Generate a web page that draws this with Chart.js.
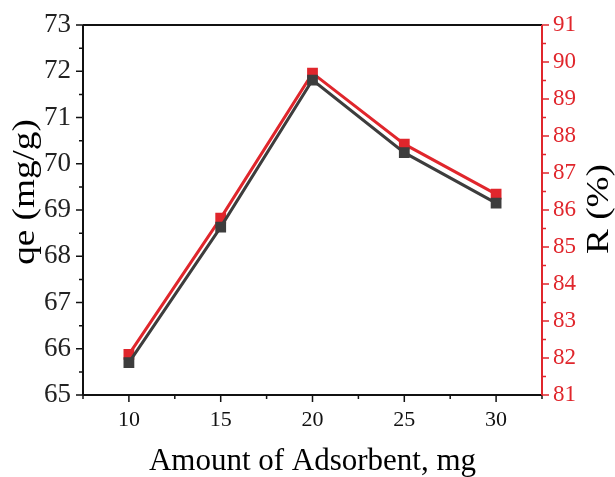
<!DOCTYPE html>
<html lang="en">
<head>
    <meta charset="UTF-8">
    <title>qe and R vs Amount of Adsorbent</title>
    <script src="https://cdn.jsdelivr.net/npm/chart.js@4.4.0/dist/chart.umd.min.js"></script>
    <style>
        body { margin: 0; background: #fff; }
        #wrap { width: 615px; height: 477px; }
    </style>
</head>
<body>
<div id="wrap"><canvas id="chart"></canvas></div>
<script>
// data
var amounts = [10, 15, 20, 25, 30];
var qeValues = [65.70, 68.63, 71.81, 70.24, 69.15];
var rValues = [82.10, 85.78, 89.70, 87.78, 86.43];
var xTicks = [10, 15, 20, 25, 30];
var qeTicks = [65, 66, 67, 68, 69, 70, 71, 72, 73];
var rTicks = [81, 82, 83, 84, 85, 86, 87, 88, 89, 90, 91];

var RED = '#e0262c';
var DARK = '#3d3d3d';
var SERIF = "'Liberation Serif', 'Times New Roman', serif";

Chart.defaults.font.family = SERIF;
Chart.defaults.color = '#000';

// frame, major/minor ticks and the two y titles
var framePlugin = {
    id: 'frame',
    afterDraw: function (chart) {
        var c = chart.ctx, a = chart.chartArea;
        var x = chart.scales.x, yl = chart.scales.y, yr = chart.scales.y2;
        c.save();
        c.lineWidth = 2;
        c.strokeStyle = '#111';
        c.beginPath();
        c.moveTo(a.left, a.top); c.lineTo(a.right, a.top);
        c.moveTo(a.left, a.top); c.lineTo(a.left, a.bottom);
        c.moveTo(a.left, a.bottom); c.lineTo(a.right, a.bottom);
        c.stroke();
        c.strokeStyle = RED;
        c.beginPath();
        c.moveTo(a.right, a.top); c.lineTo(a.right, a.bottom + 1);
        c.stroke();

        c.lineWidth = 1.5;
        c.strokeStyle = '#111';
        c.beginPath();
        for (var v = 7.5; v <= 32.5; v += 2.5) {
            var px = x.getPixelForValue(v);
            var len = (v % 5 === 0) ? 7 : 4;
            c.moveTo(px, a.bottom); c.lineTo(px, a.bottom + len);
        }
        for (var q = 65; q <= 73; q += 0.5) {
            var py = yl.getPixelForValue(q);
            var l2 = (q % 1 === 0) ? 7 : 4;
            c.moveTo(a.left, py); c.lineTo(a.left - l2, py);
        }
        c.stroke();
        c.strokeStyle = RED;
        c.beginPath();
        for (var r = 81; r <= 91; r += 0.5) {
            var py2 = yr.getPixelForValue(r);
            var l3 = (r % 1 === 0) ? 7 : 4;
            c.moveTo(a.right, py2); c.lineTo(a.right + l3, py2);
        }
        c.stroke();

        c.font = '31px ' + SERIF;
        c.textAlign = 'center';
        c.textBaseline = 'middle';
        c.fillStyle = '#000';
        c.save();
        c.translate(26, 192);
        c.scale(1, 1.2);
        c.rotate(-Math.PI / 2);
        c.fillText('qe (mg/g)', 0, 0);
        c.restore();
        c.save();
        c.translate(600, 209);
        c.scale(1, 1.2);
        c.rotate(-Math.PI / 2);
        c.fillText('R (%)', 0, 0);
        c.restore();
        c.restore();
    }
};

function noPadY(s, w) {
    s.width = w;
    s.paddingTop = 0;
    s.paddingBottom = 0;
}

new Chart(document.getElementById('chart'), {
    type: 'line',
    data: {
        datasets: [{
            label: 'qe',
            data: amounts.map(function (a, i) { return { x: a, y: qeValues[i] }; }),
            yAxisID: 'y',
            borderColor: DARK,
            backgroundColor: DARK,
            borderWidth: 3,
            pointStyle: 'rect',
            pointRadius: 5.5,
            tension: 0
        }, {
            label: 'R',
            data: amounts.map(function (a, i) { return { x: a, y: rValues[i] }; }),
            yAxisID: 'y2',
            borderColor: RED,
            backgroundColor: RED,
            borderWidth: 3,
            pointStyle: 'rect',
            pointRadius: 5.5,
            tension: 0
        }]
    },
    options: {
        responsive: true,
        maintainAspectRatio: false,
        animation: false,
        layout: { padding: { top: 25, left: 0, right: 0, bottom: 0 } },
        plugins: { legend: { display: false }, tooltip: { enabled: false } },
        scales: {
            x: {
                type: 'linear',
                min: 7.5,
                max: 32.5,
                afterBuildTicks: function (s) { s.ticks = xTicks.map(function (v) { return { value: v }; }); },
                afterFit: function (s) { s.height = 82; s.paddingLeft = 0; s.paddingRight = 0; },
                grid: { drawOnChartArea: false, drawTicks: false },
                border: { display: false },
                ticks: { padding: 12, color: '#111', font: { family: SERIF, size: 22 }, maxRotation: 0 },
                title: { display: true, text: 'Amount of Adsorbent, mg', color: '#000', font: { family: SERIF, size: 31, lineHeight: 1.0 }, padding: { top: 14, bottom: 0 } }
            },
            y: {
                position: 'left',
                min: 65,
                max: 73,
                afterBuildTicks: function (s) { s.ticks = qeTicks.map(function (v) { return { value: v }; }); },
                afterFit: function (s) { noPadY(s, 83); },
                grid: { drawOnChartArea: false, drawTicks: false },
                border: { display: false },
                ticks: { padding: 12, color: '#222', font: { family: SERIF, size: 27 } }
            },
            y2: {
                position: 'right',
                min: 81,
                max: 91,
                afterBuildTicks: function (s) { s.ticks = rTicks.map(function (v) { return { value: v }; }); },
                afterFit: function (s) { noPadY(s, 73); },
                grid: { drawOnChartArea: false, drawTicks: false },
                border: { display: false },
                ticks: { padding: 11, color: RED, font: { family: SERIF, size: 23 } }
            }
        }
    },
    plugins: [framePlugin]
});
</script>
</body>
</html>
